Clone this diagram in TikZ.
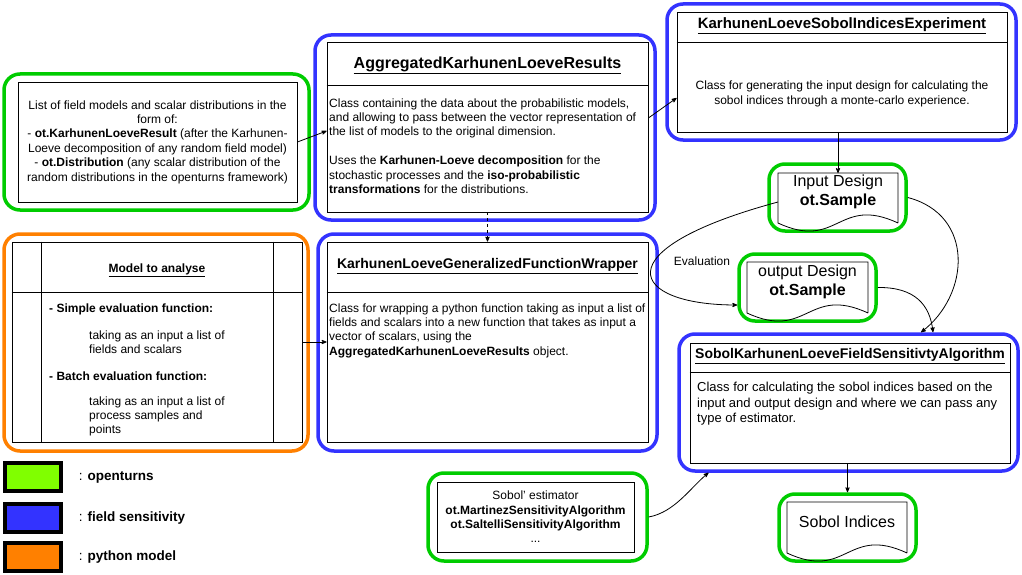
\documentclass[tikz,border=0pt]{standalone}
\usepackage{fontspec}
\setmainfont{Liberation Sans}
\usetikzlibrary{positioning,arrows,calc}
\definecolor{otgreen}{HTML}{00CC00}
\definecolor{fsblue}{HTML}{3333FF}
\definecolor{pyorange}{HTML}{FF8000}
\definecolor{otlime}{HTML}{80FF00}
\tikzset{
  grp/.style={draw=#1, line width=3.5pt, rounded corners=16pt, inner sep=0},
  cls/.style={draw, line width=0.8pt, inner sep=0},
  docbox/.style={inner sep=0, outer sep=0},
  txt/.style={font=\fontsize{12}{14.4}\selectfont, inner sep=0},
  body/.style={txt, align=left, anchor=base west},
  ttl/.style={inner sep=0, font=\bfseries\fontsize{#1}{#1}\selectfont},
  doctxt/.style={inner sep=0, align=center, font=\fontsize{16}{19.2}\selectfont},
  conn/.style={->, >=stealth', line width=0.8pt},
  swatch/.style={draw, line width=3.5pt, minimum width=56, minimum height=28, inner sep=0},
  legtxt/.style={inner sep=0, font=\fontsize{13.5}{16}\selectfont},
}
% base of a multi-line node is its last line
\newcommand{\docshape}[1]{%
  \draw[line width=0.8pt] (#1.south east) -- (#1.north east) -- (#1.north west) -- (#1.south west)
    .. controls ($(#1.south)+(0,28)$) and ($(#1.south)+(0,-28)$) .. (#1.south east);}

\begin{document}
\begin{tikzpicture}[x=1pt,y=-1pt]
\useasboundingbox (0,0) rectangle (1022,575);

% field models
\node[grp=otgreen, minimum width=305, minimum height=136] (fieldsG) at (156.5,142) {};
\node[cls, minimum width=279, minimum height=120] (fieldsB) at (157.5,142) {};
\node[txt, align=center] (fieldsT) at (fieldsB) {List of field models and scalar distributions in the\\
  form of:\\
  - \textbf{ot.KarhunenLoeveResult} (after the Karhunen-\\
  Loeve decomposition of any random field model)\\
  - \textbf{ot.Distribution} (any scalar distribution of the\\
  random distributions in the openturns framework)};

% aggregated results
\node[grp=fsblue, minimum width=340, minimum height=185] (klrG) at (485,127.5) {};
\node[cls, minimum width=321, minimum height=170] (klrB) at (487.5,127) {};
\draw[line width=0.8pt] (klrB.west |- 0,85) -- (klrB.east |- 0,85);
\node[ttl=16] (klrTitle) at (487.5,65) {\underline{AggregatedKarhunenLoeveResults}};
\node[body] (klrText) at (329,193.4) {Class containing the data about the probabilistic models,\\
  and allowing to pass between the vector representation of\\
  the list of models to the original dimension.\\[14.4pt]
  Uses the \textbf{Karhunen-Loeve decomposition} for the\\
  stochastic processes and the \textbf{iso-probabilistic}\\
  \textbf{transformations} for the distributions.};

% experiment
\node[grp=fsblue, minimum width=349, minimum height=136] (expG) at (841.5,72) {};
\node[cls, minimum width=330, minimum height=120] (expB) at (842,72) {};
\draw[line width=0.8pt] (expB.west |- 0,42) -- (expB.east |- 0,42);
\node[ttl=15] (expTitle) at (842,26) {\underline{KarhunenLoeveSobolIndicesExperiment}};
\node[txt, align=center] (expText) at (842,94) {Class for generating the input design for calculating the\\
  sobol indices through a monte-carlo experience.};

% python model
\node[grp=pyorange, minimum width=304, minimum height=217] (modelG) at (156,342.5) {};
\node[cls, minimum width=290, minimum height=200] (modelB) at (157,342) {};
\draw[line width=0.8pt] (modelB.west |- 0,292) -- (modelB.east |- 0,292);
\draw[line width=0.8pt] (41,0 |- modelB.north) -- (41,0 |- modelB.south);
\draw[line width=0.8pt] (273,0 |- modelB.north) -- (273,0 |- modelB.south);
\node[ttl=12] (modelTitle) at (157,270) {\underline{Model to analyse}};
\node[body, font=\bfseries\fontsize{12}{14.4}\selectfont] (modelS) at (49,312) {- Simple evaluation function:};
\node[body] (modelSt) at (89,353.4) {taking as an input a list of\\ fields and scalars};
\node[body, font=\bfseries\fontsize{12}{14.4}\selectfont] (modelM) at (49,380) {- Batch evaluation function:};
\node[body] (modelMt) at (89,433.8) {taking as an input a list of\\ process samples and\\ points};

% function wrapper
\node[grp=fsblue, minimum width=339, minimum height=217] (wrapG) at (487.5,342.5) {};
\node[cls, minimum width=321, minimum height=200] (wrapB) at (487.5,342) {};
\draw[line width=0.8pt] (wrapB.west |- 0,292) -- (wrapB.east |- 0,292);
\node[ttl=14] (wrapTitle) at (487.5,266) {\underline{KarhunenLoeveGeneralizedFunctionWrapper}};
\node[body] (wrapText) at (329,355.2) {Class for wrapping a python function taking as input a list of\\
  fields and scalars into a new function that takes as input a\\
  vector of scalars, using the\\
  \textbf{AggregatedKarhunenLoeveResults} object.};

% designs
\node[grp=otgreen, minimum width=137, minimum height=67] (inG) at (837.5,197.5) {};
\node[docbox, minimum width=120, minimum height=50] (inDoc) at (838,198) {};
\docshape{inDoc}
\node[doctxt] (inText) at (838,192) {Input Design\\ \textbf{ot.Sample}};

\node[grp=otgreen, minimum width=137, minimum height=67] (outG) at (807.5,287.5) {};
\node[docbox, minimum width=121, minimum height=51] (outDoc) at (807.5,287.5) {};
\docshape{outDoc}
\node[doctxt] (outText) at (807.5,282) {output Design\\ \textbf{ot.Sample}};

% sensitivity algorithm
\node[grp=fsblue, minimum width=339, minimum height=137] (sensG) at (848.5,402.5) {};
\node[cls, minimum width=320, minimum height=120] (sensB) at (850,403) {};
\draw[line width=0.8pt] (sensB.west |- 0,372) -- (sensB.east |- 0,372);
\node[ttl=14] (sensTitle) at (850,356) {\underline{SobolKarhunenLoeveFieldSensitivtyAlgorithm}};
\node[body, font=\fontsize{13}{15.6}\selectfont] (sensText) at (697,422.7) {Class for calculating the sobol indices based on the\\
  input and output design and where we can pass any\\
  type of estimator.};

% estimator
\node[grp=otgreen, minimum width=219, minimum height=88] (estG) at (537.5,517) {};
\node[cls, minimum width=197, minimum height=70] (estB) at (535.5,517) {};
\node[txt, align=center] (estText) at (estB) {Sobol' estimator\\
  \textbf{ot.MartinezSensitivityAlgorithm}\\
  \textbf{ot.SaltelliSensitivityAlgorithm}\\
  ...};

% indices
\node[grp=otgreen, minimum width=137, minimum height=67] (idxG) at (847.5,527.5) {};
\node[docbox, minimum width=120, minimum height=51] (idxDoc) at (847,527.5) {};
\docshape{idxDoc}
\node[doctxt] (idxText) at (847,522) {Sobol Indices};

% legend
\node[swatch, fill=otlime] (legOT) at (33,477) {};
\node[swatch, fill=fsblue] (legFS) at (33,518) {};
\node[swatch, fill=pyorange] (legPY) at (33,557) {};
\node[legtxt, right=16pt of legOT] (legOTt) {: \textbf{openturns}};
\node[legtxt, right=16pt of legFS] (legFSt) {: \textbf{field sensitivity}};
\node[legtxt, right=16pt of legPY] (legPYt) {: \textbf{python model}};

% connectors
\draw[conn] (fieldsB.east) -- ([yshift=-4pt]klrB.west);
\draw[conn] ([yshift=9pt]klrB.east) -- ([yshift=-26pt]expB.west);
\draw[conn, dashed] (klrB.south) -- (wrapB.north);
\draw[conn] (modelB.east) -- (wrapB.west);
\draw[conn] (inDoc.north |- expB.south) -- (inDoc.north);
\draw[conn] ([yshift=-4pt]inDoc.west) .. controls (600,250) and (630,305) .. ([yshift=-17.5pt]outG.west);
\node[txt] (evalLbl) at (702,261) {Evaluation};
\draw[conn] (inG.east) .. controls (975,215) and (970,295) .. ([xshift=72.5pt]sensG.north);
\draw[conn] (outG.east) .. controls (915,287) and (930,305) .. ([xshift=84.5pt]sensG.north);
\draw[conn] (estG.east) .. controls (675,512) and (690,488) .. ([xshift=-140pt]sensG.south);
\draw[conn] (idxG.north |- sensB.south) -- (idxG.north);
\end{tikzpicture}
\end{document}
